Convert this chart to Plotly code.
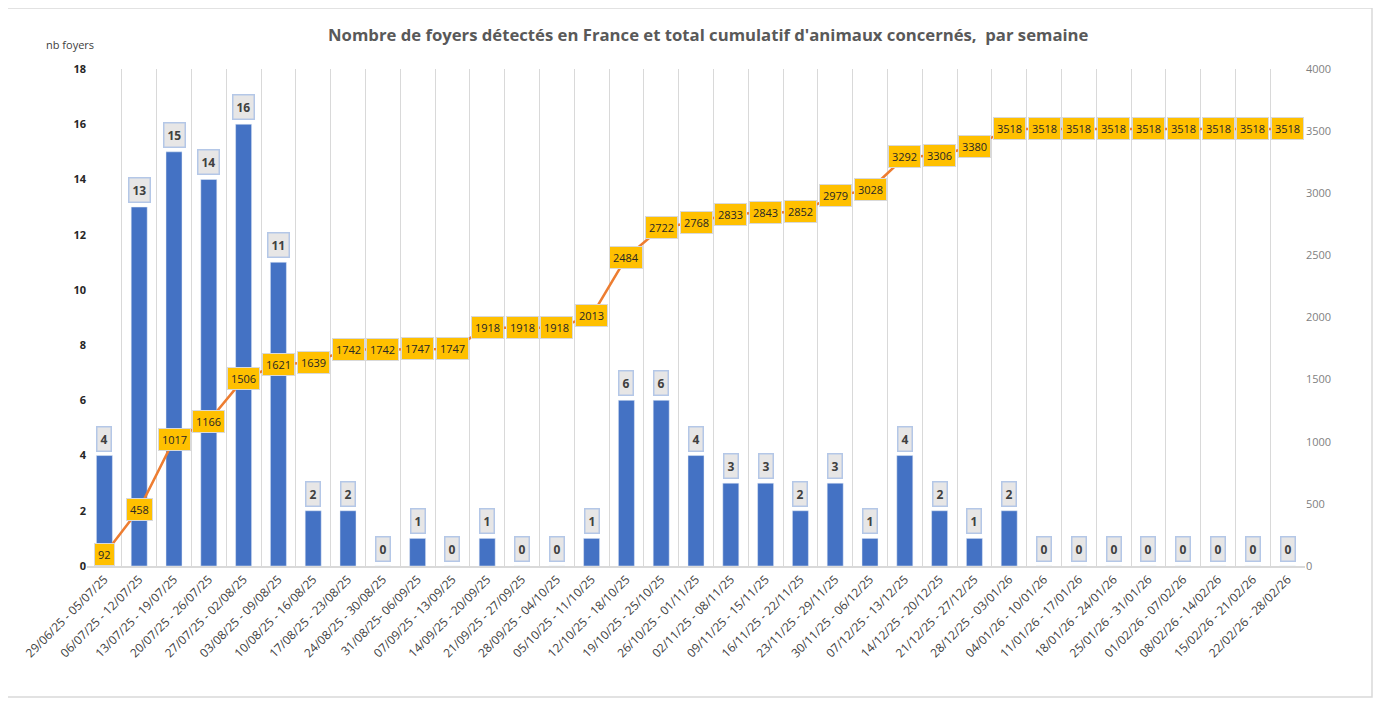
import plotly.graph_objects as go

weeks = [
    "29/06/25 - 05/07/25", "06/07/25 - 12/07/25", "13/07/25 - 19/07/25",
    "20/07/25 - 26/07/25", "27/07/25 - 02/08/25", "03/08/25 - 09/08/25",
    "10/08/25 - 16/08/25", "17/08/25 - 23/08/25", "24/08/25 - 30/08/25",
    "31/08/25- 06/09/25", "07/09/25 - 13/09/25", "14/09/25 - 20/09/25",
    "21/09/25 - 27/09/25", "28/09/25 - 04/10/25", "05/10/25 - 11/10/25",
    "12/10/25 - 18/10/25", "19/10/25 - 25/10/25", "26/10/25 - 01/11/25",
    "02/11/25 - 08/11/25", "09/11/25 - 15/11/25", "16/11/25 - 22/11/25",
    "23/11/25 - 29/11/25", "30/11/25 - 06/12/25", "07/12/25 - 13/12/25",
    "14/12/25 - 20/12/25", "21/12/25 - 27/12/25", "28/12/25 - 03/01/26",
    "04/01/26 - 10/01/26", "11/01/26 - 17/01/26", "18/01/26 - 24/01/26",
    "25/01/26 - 31/01/26", "01/02/26 - 07/02/26", "08/02/26 - 14/02/26",
    "15/02/26 - 21/02/26", "22/02/26 - 28/02/26",
]

foyers = [4, 13, 15, 14, 16, 11, 2, 2, 0, 1, 0, 1, 0, 0, 1, 6, 6, 4, 3, 3,
          2, 3, 1, 4, 2, 1, 2, 0, 0, 0, 0, 0, 0, 0, 0]

cumul_animaux = [92, 458, 1017, 1166, 1506, 1621, 1639, 1742, 1742, 1747,
                 1747, 1918, 1918, 1918, 2013, 2484, 2722, 2768, 2833, 2843,
                 2852, 2979, 3028, 3292, 3306, 3380, 3518, 3518, 3518, 3518,
                 3518, 3518, 3518, 3518, 3518]

left_ticks = list(range(0, 19, 2))
right_ticks = list(range(0, 4001, 500))

FONT = "Open Sans"

fig = go.Figure()

fig.add_trace(go.Bar(
    x=weeks, y=foyers, name="nb foyers",
    marker=dict(color="#4472C4"), yaxis="y",
))

fig.add_trace(go.Scatter(
    x=weeks, y=cumul_animaux, name="cumul animaux",
    mode="lines", line=dict(color="#ED7D31", width=2.5), yaxis="y2",
))

annotations = []
# bar value labels (grey boxes above the bars)
for w, v in zip(weeks, foyers):
    annotations.append(dict(
        x=w, y=v, xref="x", yref="y", text=str(v), showarrow=False,
        yanchor="bottom", yshift=4,
        font=dict(family=FONT, size=12, color="#404040", weight="bold"),
        bgcolor="#E7E6E6", bordercolor="#B4C7E7", borderwidth=1.5, borderpad=3,
    ))
# cumulative labels (yellow boxes sitting on the line)
for w, v in zip(weeks, cumul_animaux):
    annotations.append(dict(
        x=w, y=v, xref="x", yref="y2", text=str(v), showarrow=False,
        font=dict(family=FONT, size=11, color="#262626"),
        bgcolor="#FFC000", bordercolor="#D9D9D9", borderwidth=1, borderpad=3,
    ))

annotations.append(dict(
    x=-17 / 1218, y=1 + 24 / 497, xref="paper", yref="paper", text="nb foyers",
    xanchor="center", yanchor="middle", showarrow=False,
    font=dict(family=FONT, size=11, color="#404040"),
))

fig.update_layout(
    width=1373, height=693,
    margin=dict(l=79, r=76, t=61, b=135),
    paper_bgcolor="white", plot_bgcolor="white",
    showlegend=False,
    bargap=0.54,
    title=dict(
        text="<b>Nombre de foyers détectés en France et total cumulatif d'animaux concernés,  par semaine</b>",
        x=0.51, xanchor="center", y=1 - 27 / 693, yanchor="middle",
        font=dict(family=FONT, size=16.7, color="#595959"),
    ),
    xaxis=dict(
        type="category", tickangle=-45, tickson="boundaries",
        showgrid=True, gridcolor="#D9D9D9", gridwidth=1.2,
        showline=True, linecolor="#D9D9D9", linewidth=1.5,
        ticks="", tickfont=dict(family=FONT, size=12, color="#404040"),
    ),
    yaxis=dict(
        range=[0, 18], tickvals=left_ticks, showgrid=False, zeroline=False,
        showline=False, ticks="",
        tickfont=dict(family=FONT, size=11, color="#262626", weight="bold"),
    ),
    yaxis2=dict(
        range=[0, 4000], tickvals=right_ticks, overlaying="y", side="right",
        showgrid=False, zeroline=False, showline=False, ticks="",
        tickfont=dict(family=FONT, size=11, color="#7F7F7F"),
    ),
    annotations=annotations,
)

# outer chart border
fig.add_shape(type="rect", xref="paper", yref="paper",
              x0=-80 / 1218, x1=1 + 67 / 1218, y0=-131 / 497, y1=1 + 61 / 497,
              line=dict(color="#D9D9D9", width=1.5))

fig.write_html("out.html")
